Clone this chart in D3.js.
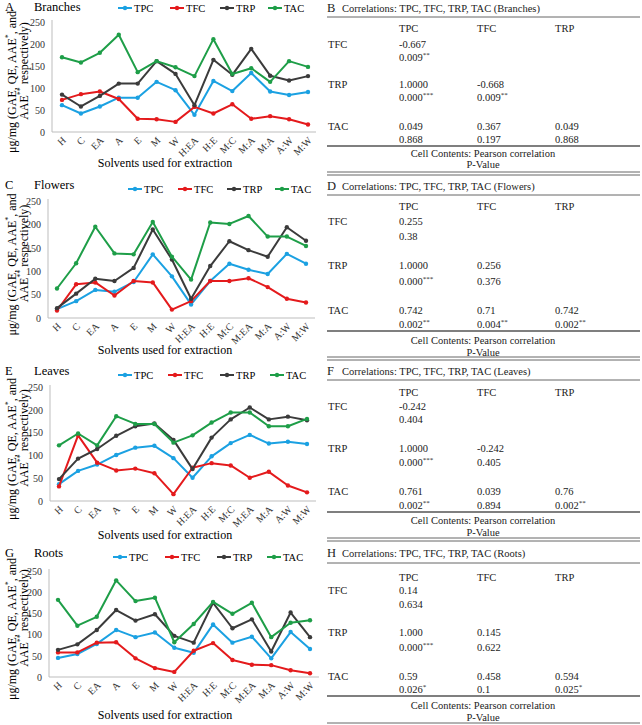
<!DOCTYPE html>
<html><head><meta charset="utf-8">
<script src="https://cdn.jsdelivr.net/npm/d3@7"></script>
<style>
html,body{margin:0;padding:0;background:#fff;}
svg, svg text{font-family:"Liberation Serif","Times New Roman",Times,serif !important;}
</style></head>
<body>
<svg id="fig" width="642" height="725" font-family="Liberation Serif, Times New Roman, serif"></svg>
<script>
// ---------- DATA ----------
const seriesNames = ["TPC","TFC","TRP","TAC"];
const solventsBranches = ["H","C","EA","A","E","M","W","H:EA","H:E","M:C","M:A","M:A","A:W","M:W"];
const solvents = ["H","C","EA","A","E","M","W","H:EA","H:E","M:C","M:EA","M:A","A:W","M:W"];
const yTicks = [0,50,100,150,200,250];

const branchesTPC = [61,42,58,78,78,114,95,39,116,93,134,92,84,91];
const branchesTFC = [73,86,92,75,30,29,23,57,42,63,30,36,29,17];
const branchesTRP = [85,58,82,110,110,161,132,61,164,130,189,128,117,127];
const branchesTAC = [170,158,180,221,136,161,147,127,211,132,145,114,161,148];

const flowersTPC = [19,36,60,56,77,136,89,29,79,116,103,94,137,116];
const flowersTFC = [16,72,76,48,79,76,18,36,79,79,85,66,41,33];
const flowersTRP = [21,52,84,79,107,189,125,41,111,164,145,131,194,165];
const flowersTAC = [63,117,195,138,136,205,131,82,204,201,218,174,174,154];

const leavesTPC = [37,66,80,101,117,121,94,51,98,127,145,126,130,125];
const leavesTFC = [32,144,84,67,71,61,15,73,83,78,51,64,34,19];
const leavesTRP = [48,93,114,143,164,170,134,70,139,179,205,179,185,177];
const leavesTAC = [122,148,122,186,169,169,128,144,172,194,194,164,164,180];

const rootsTPC = [45,54,78,111,94,105,69,57,124,81,95,44,106,66];
const rootsTFC = [58,58,81,82,44,21,12,62,80,40,29,28,16,9];
const rootsTRP = [64,77,111,158,133,148,97,81,175,115,136,60,152,94];
const rootsTAC = [182,121,142,228,179,187,82,125,177,149,175,94,128,134];

const corrColumns = ["TPC","TFC","TRP"];
const corrRows = ["TFC","TRP","TAC"];
// each row: list of [correlation, p-value text, significance stars]
const corrBranches = [
  [["-0.667","0.009","**"]],
  [["1.0000","0.000","***"],["-0.668","0.009","**"]],
  [["0.049","0.868",""],["0.367","0.197",""],["0.049","0.868",""]]
];
const corrFlowers = [
  [["0.255","0.38",""]],
  [["1.0000","0.000","***"],["0.256","0.376",""]],
  [["0.742","0.002","**"],["0.71","0.004","**"],["0.742","0.002","**"]]
];
const corrLeaves = [
  [["-0.242","0.404",""]],
  [["1.0000","0.000","***"],["-0.242","0.405",""]],
  [["0.761","0.002","**"],["0.039","0.894",""],["0.76","0.002","**"]]
];
const corrRoots = [
  [["0.14","0.634",""]],
  [["1.000","0.000","***"],["0.145","0.622",""]],
  [["0.59","0.026","*"],["0.458","0.1",""],["0.594","0.025","*"]]
];

// ---------- STYLE ----------
const FONT = "Liberation Serif, Times New Roman, serif";
const colors = {TPC:"#1ba1e2",TFC:"#e41a1c",TRP:"#3b3b3b",TAC:"#1e9e48"};
const svg = d3.select("#fig");

// ---------- LINE CHARTS ----------
const panels = [
  {letter:"A",name:"Branches",cats:solventsBranches,data:[branchesTPC,branchesTFC,branchesTRP,branchesTAC],
   y250:22,y0:132,axisX:52,x0:62,x1:308,axisEnd:316,headY:7,legendY:8,legendX:[118,170,220,268],titleY:163},
  {letter:"C",name:"Flowers",cats:solvents,data:[flowersTPC,flowersTFC,flowersTRP,flowersTAC],
   y250:201,y0:318,axisX:48,x0:57,x1:306,axisEnd:315,headY:185,legendY:189,legendX:[128,178,227,275],titleY:350},
  {letter:"E",name:"Leaves",cats:solvents,data:[leavesTPC,leavesTFC,leavesTRP,leavesTAC],
   y250:387,y0:501,axisX:50,x0:59,x1:307,axisEnd:316,headY:371,legendY:375,legendX:[118,168,220,270],titleY:535},
  {letter:"G",name:"Roots",cats:solvents,data:[rootsTPC,rootsTFC,rootsTRP,rootsTAC],
   y250:571,y0:677,axisX:49,x0:58,x1:310,axisEnd:319,headY:553,legendY:557,legendX:[113,165,217,267],titleY:715}
];

panels.forEach(p=>{
  const g = svg.append("g");
  const idx = d3.range(p.cats.length);
  const x = d3.scalePoint().domain(idx).range([p.x0,p.x1]);
  const y = d3.scaleLinear().domain([0,250]).range([p.y0,p.y250]);

  // heading
  g.append("text").attr("x",5).attr("y",p.headY).attr("dy","0.35em").attr("font-size",12.5).text(p.letter);
  g.append("text").attr("x",34).attr("y",p.headY).attr("dy","0.35em").attr("font-size",12.5).text(p.name);

  // y axis
  const ya = g.append("g").attr("transform",`translate(${p.axisX},0)`)
    .call(d3.axisLeft(y).tickValues(yTicks).tickSize(0).tickPadding(7));
  ya.attr("font-family",FONT);
  ya.select(".domain").remove();
  ya.selectAll("text").attr("font-size",10).attr("fill","#333");
  g.append("line").attr("x1",p.axisX).attr("x2",p.axisX).attr("y1",y(250)-2).attr("y2",y(0)).attr("stroke","#bdbdbd");

  // x axis
  const xa = g.append("g").attr("transform",`translate(0,${p.y0})`)
    .call(d3.axisBottom(x).tickSize(0).tickFormat(i=>p.cats[i]));
  xa.attr("font-family",FONT);
  xa.select(".domain").remove();
  xa.selectAll("text").attr("font-size",10).attr("fill","#333")
    .attr("text-anchor","end").attr("dy",0).attr("y",0)
    .attr("transform","translate(4,9) rotate(-45)");
  g.append("line").attr("x1",p.axisX).attr("x2",p.axisEnd).attr("y1",y(0)).attr("y2",y(0)).attr("stroke","#bdbdbd");

  // axis titles
  g.append("text").attr("x",165).attr("y",p.titleY).attr("dy","0.35em").attr("text-anchor","middle")
    .attr("font-size",12).text("Solvents used for extraction");
  const mid = (p.y0+p.y250)/2;
  const l1 = g.append("text").attr("transform",`translate(12,${mid+5}) rotate(-90)`).attr("dy","0.35em")
    .attr("text-anchor","middle").attr("font-size",12);
  l1.append("tspan").text("μg/mg (GAE, QE, AAE");
  l1.append("tspan").attr("font-size",8).attr("dy","-0.6em").text("*");
  l1.append("tspan").attr("dy","0.4em").text(", and");
  const l2 = g.append("text").attr("transform",`translate(24,${mid-6}) rotate(-90)`).attr("dy","0.35em")
    .attr("text-anchor","middle").attr("font-size",12);
  l2.append("tspan").text("AAE");
  l2.append("tspan").attr("font-size",8).attr("dy","-0.6em").text("**");
  l2.append("tspan").attr("dy","0.4em").text(" respectively)");

  // lines
  const line = d3.line().x((d,i)=>x(i)).y(d=>y(d));
  seriesNames.forEach((s,k)=>{
    const vals = p.data[k];
    g.append("path").datum(vals).attr("d",line).attr("fill","none")
      .attr("stroke",colors[s]).attr("stroke-width",2).attr("stroke-linejoin","round");
    g.selectAll(null).data(vals).enter().append("circle")
      .attr("cx",(d,i)=>x(i)).attr("cy",d=>y(d)).attr("r",2.2).attr("fill",colors[s]);
  });

  // legend
  seriesNames.forEach((s,k)=>{
    const lx = p.legendX[k];
    g.append("line").attr("x1",lx).attr("x2",lx+14).attr("y1",p.legendY).attr("y2",p.legendY)
      .attr("stroke",colors[s]).attr("stroke-width",2);
    g.append("circle").attr("cx",lx+7).attr("cy",p.legendY).attr("r",2.2).attr("fill",colors[s]);
    g.append("text").attr("x",lx+16).attr("y",p.legendY).attr("dy","0.35em").attr("font-size",10.5).text(s);
  });
});

// ---------- CORRELATION TABLES ----------
const tables = [
  {letter:"B",name:"Branches",data:corrBranches,
   title:8,line1:17,head:28,rows:[[44,57],[84,97],[126,139]],line2:146,cell:153,pv:164,bottom:[172,175]},
  {letter:"D",name:"Flowers",data:corrFlowers,
   title:186,line1:195,head:206,rows:[[221,236],[265,281],[310,324]],line2:331,cell:340,pv:352,bottom:[357,360]},
  {letter:"F",name:"Leaves",data:corrLeaves,
   title:371,line1:380,head:392,rows:[[406,419],[448,462],[491,505]],line2:512,cell:520,pv:532,bottom:[538,541]},
  {letter:"H",name:"Roots",data:corrRoots,
   title:553,line1:563,head:577,rows:[[590,604],[632,647],[676,689]],line2:696,cell:705,pv:717,bottom:[723]}
];
const tx0 = 327, tx1 = 640;
const colX = d3.scalePoint().domain(corrColumns).range([399,555]);

tables.forEach(t=>{
  const g = svg.append("g").attr("font-size",10.5).attr("fill","#222");
  g.append("text").attr("x",tx0).attr("y",t.title).attr("dy","0.35em").attr("font-size",12.5).text(t.letter);
  g.append("text").attr("x",tx0+15).attr("y",t.title).attr("dy","0.35em").attr("font-size",10.5)
    .text(`Correlations: TPC, TFC, TRP, TAC (${t.name})`);
  g.append("line").attr("x1",tx0).attr("x2",tx1).attr("y1",t.line1).attr("y2",t.line1).attr("stroke","#666").attr("stroke-width",1);
  corrColumns.forEach(c=>{
    g.append("text").attr("x",colX(c)).attr("y",t.head).attr("dy","0.35em").text(c);
  });
  corrRows.forEach((r,ri)=>{
    const [ya,yb] = t.rows[ri];
    g.append("text").attr("x",tx0+1).attr("y",ya).attr("dy","0.35em").text(r);
    t.data[ri].forEach((cell,ci)=>{
      const cx = colX(corrColumns[ci]);
      g.append("text").attr("x",cx).attr("y",ya).attr("dy","0.35em").text(cell[0]);
      const pt = g.append("text").attr("x",cx).attr("y",yb).attr("dy","0.35em");
      pt.append("tspan").text(cell[1]);
      if(cell[2]) pt.append("tspan").attr("font-size",7).attr("dy","-0.55em").text(cell[2]);
    });
  });
  g.append("line").attr("x1",tx0).attr("x2",tx1).attr("y1",t.line2).attr("y2",t.line2).attr("stroke","#555").attr("stroke-width",1.5);
  g.append("text").attr("x",483).attr("y",t.cell).attr("dy","0.35em").attr("text-anchor","middle").text("Cell Contents: Pearson correlation");
  g.append("text").attr("x",483).attr("y",t.pv).attr("dy","0.35em").attr("text-anchor","middle").text("P-Value");
  t.bottom.forEach(by=>{
    g.append("line").attr("x1",tx0).attr("x2",tx1).attr("y1",by).attr("y2",by).attr("stroke","#666").attr("stroke-width",1);
  });
});
svg.selectAll("text").attr("font-family",FONT);
</script>
</body></html>
